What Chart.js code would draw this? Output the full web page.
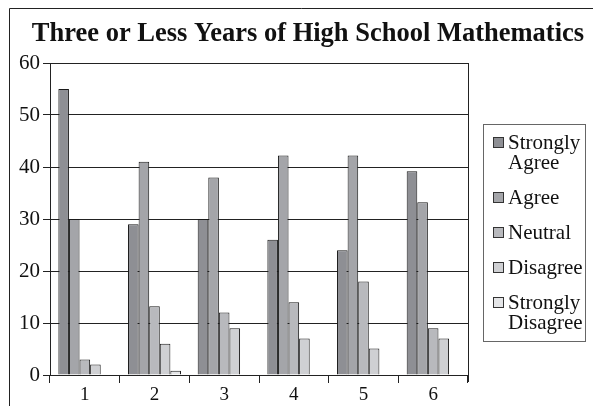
<!DOCTYPE html>
<html>
<head>
<meta charset="utf-8">
<script src="https://cdn.jsdelivr.net/npm/chart.js@4.4.1/dist/chart.umd.min.js"></script>
<style>
  html, body { margin: 0; padding: 0; background: #fff; }
  #wrap { position: relative; width: 593px; height: 406px; overflow: hidden; }
  #legend {
    position: absolute; left: 483px; top: 124px; width: 103px; height: 218px;
    border: 1px solid #666; box-sizing: border-box; padding: 7px 0 0 9px;
    font-family: 'Liberation Serif', serif; font-size: 21px; line-height: 20px; color: #111;
  }
  .lg-row { display: flex; align-items: flex-start; margin-bottom: 15px; }
  .lg-swatch { width: 9px; height: 9px; border: 1px solid #333; margin: 5px 4px 0 0; flex: none; }
</style>
</head>
<body>
<div id="wrap">
  <canvas id="c" width="593" height="406"></canvas>
  <div id="legend"></div>
</div>
<script>
const categories = ['1', '2', '3', '4', '5', '6'];
const stronglyAgree = [55, 29, 30, 26, 24, 39.2];
const agree = [30, 41, 38, 42.2, 42.2, 33.2];
const neutral = [3, 13.2, 12, 14, 18, 9];
const disagree = [2, 6, 9, 7, 5.1, 7];
const stronglyDisagree = [0, 0.8, 0, 0, 0, 0];

const seriesNames = [['Strongly', 'Agree'], ['Agree'], ['Neutral'], ['Disagree'], ['Strongly', 'Disagree']];
const seriesColors = ['#8e8f94', '#a4a5a9', '#b8b9bd', '#cfd0d3', '#e4e5e7'];
const seriesData = [stronglyAgree, agree, neutral, disagree, stronglyDisagree];

const FONT = 'Liberation Serif';

// page frame, right edge of the plot and the title
const framePlugin = {
  id: 'frame',
  afterDraw(chart) {
    const { ctx, chartArea } = chart;
    ctx.save();
    ctx.strokeStyle = '#222';
    ctx.lineWidth = 1;
    ctx.beginPath();
    ctx.moveTo(9.5, chart.height);
    ctx.lineTo(9.5, 8.5);
    ctx.lineTo(chart.width, 8.5);
    ctx.stroke();
    ctx.beginPath();
    ctx.moveTo(Math.round(chartArea.right) + 0.5, chartArea.top);
    ctx.lineTo(Math.round(chartArea.right) + 0.5, chartArea.bottom + 7);
    ctx.stroke();
    ctx.fillStyle = '#111';
    ctx.font = 'bold 26.5px ' + FONT;
    ctx.textAlign = 'center';
    ctx.textBaseline = 'alphabetic';
    ctx.fillText('Three or Less Years of High School Mathematics', 308, 41);
    ctx.restore();
  }
};

const chart = new Chart(document.getElementById('c'), {
  type: 'bar',
  data: {
    labels: categories,
    datasets: seriesData.map((d, i) => ({
      label: seriesNames[i].join(' '),
      data: d,
      backgroundColor: seriesColors[i],
      borderColor: '#1a1a1a',
      borderWidth: 1,
      categoryPercentage: 0.76,
      barPercentage: 1
    }))
  },
  options: {
    responsive: false,
    animation: false,
    layout: { padding: { left: 0, top: 63, right: 125, bottom: 0 } },
    plugins: { legend: { display: false }, tooltip: { enabled: false } },
    scales: {
      x: {
        grid: { drawOnChartArea: false, drawTicks: true, tickLength: 8, color: '#222', offset: true },
        border: { color: '#222' },
        ticks: { color: '#111', font: { family: FONT, size: 19 }, padding: 1 },
        afterFit(s) { s.height = 31; }
      },
      y: {
        min: 0, max: 60,
        ticks: { stepSize: 10, color: '#111', font: { family: FONT, size: 21 }, padding: 3 },
        grid: { color: '#222', tickLength: 7 },
        border: { color: '#222' },
        afterFit(s) { s.width = 50; }
      }
    }
  },
  plugins: [framePlugin]
});

// legend box
const legendEl = document.getElementById('legend');
seriesNames.forEach((name, i) => {
  const row = document.createElement('div');
  row.className = 'lg-row';
  row.innerHTML = `<div class="lg-swatch" style="background:${seriesColors[i]}"></div><div>${name.join('<br>')}</div>`;
  legendEl.appendChild(row);
});
</script>
</body>
</html>
